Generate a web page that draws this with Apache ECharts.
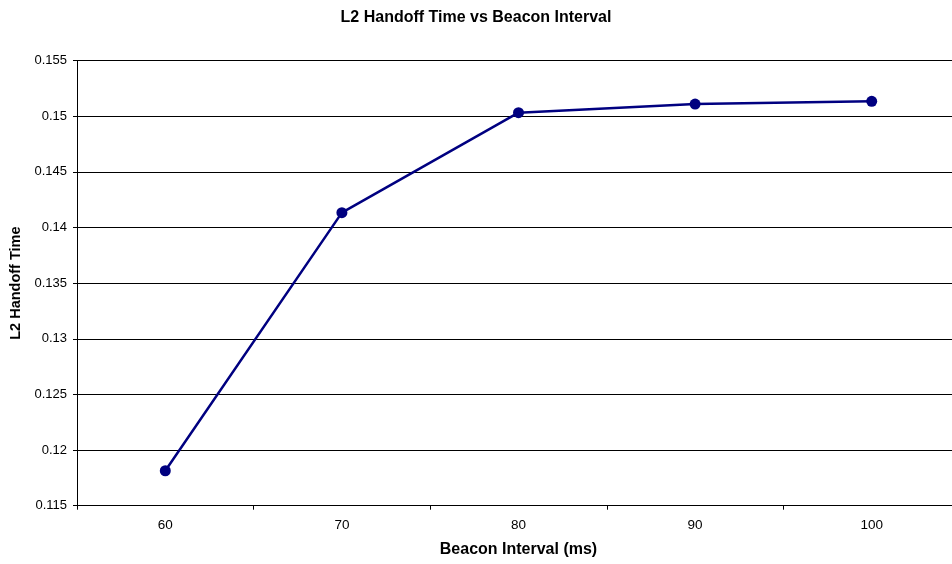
<!DOCTYPE html>
<html><head><meta charset="utf-8">
<script src="https://cdn.jsdelivr.net/npm/echarts@6/dist/echarts.min.js"></script>
<style>html,body{margin:0;padding:0;background:#fff}#c{width:952px;height:564px}</style>
</head><body><div id="c"></div>
<script>
const categories = ['60', '70', '80', '90', '100'];
const handoffTime = [0.11814, 0.14133, 0.15031, 0.15109, 0.15133];
const yTicks = { min: 0.115, max: 0.155, interval: 0.005 };

const chart = echarts.init(document.getElementById('c'));
const font = 'Liberation Sans, Arial, sans-serif';
chart.setOption({
  animation: false,
  title: {
    text: 'L2 Handoff Time vs Beacon Interval',
    left: 'center', top: 5,
    textStyle: { fontFamily: font, fontSize: 16, fontWeight: 'bold', color: '#000' }
  },
  grid: { left: 77, top: 60.5, width: 883, height: 445.2, containLabel: false, outerBoundsMode: 'none' },
  xAxis: {
    type: 'category',
    data: categories,
    boundaryGap: true,
    name: 'Beacon Interval (ms)',
    nameLocation: 'middle',
    nameGap: 36,
    nameTextStyle: { fontFamily: font, fontSize: 16, fontWeight: 'bold', color: '#000' },
    axisLine: { lineStyle: { color: '#000', width: 1 } },
    axisTick: { show: true, alignWithLabel: false, length: 4, lineStyle: { color: '#000' } },
    axisLabel: { fontFamily: font, fontSize: 13.5, color: '#000', margin: 13 },
    splitLine: { show: false }
  },
  yAxis: {
    type: 'value',
    min: yTicks.min, max: yTicks.max, interval: yTicks.interval,
    name: 'L2 Handoff Time',
    nameLocation: 'middle',
    nameGap: 52,
    nameTextStyle: { fontFamily: font, fontSize: 14.5, fontWeight: 'bold', color: '#000' },
    axisLine: { show: true, lineStyle: { color: '#000', width: 1 } },
    axisTick: { show: true, length: 4, lineStyle: { color: '#000' } },
    axisLabel: { fontFamily: font, fontSize: 13, color: '#000', margin: 10,
      formatter: v => String(parseFloat(v.toFixed(3))) },
    splitLine: { show: true, lineStyle: { color: '#000', width: 1 } }
  },
  series: [{
    type: 'line',
    data: handoffTime,
    symbol: 'circle',
    symbolSize: 11,
    lineStyle: { color: '#000080', width: 2.5 },
    itemStyle: { color: '#000080' }
  }]
});
</script></body></html>
